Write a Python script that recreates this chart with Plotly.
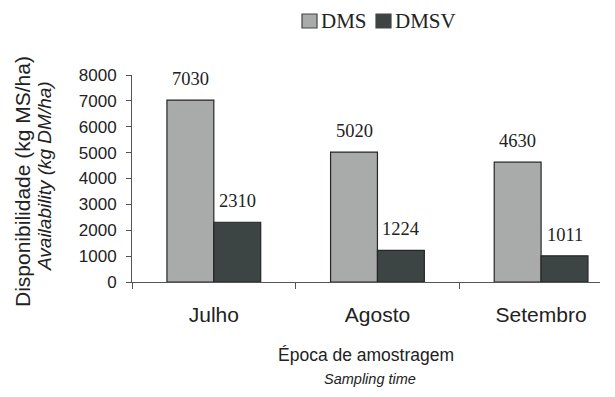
import plotly.graph_objects as go

categories = ["Julho", "Agosto", "Setembro"]
dms = [7030, 5020, 4630]
dmsv = [2310, 1224, 1011]
series_names = ["DMS", "DMSV"]
y_ticks = [0, 1000, 2000, 3000, 4000, 5000, 6000, 7000, 8000]

colors = ["#a9abaa", "#3c4543"]
edge = "#262626"
bargap = 0.427
bar_w = (1 - bargap) / 2

serif = "Liberation Serif, Times New Roman, serif"
sans = "Liberation Sans, Arial, sans-serif"

# the page body adds an 8px margin, so the figure is laid out 8px up/left
OFF = 8
FW, FH = 607, 389
L, W, T, H = 132 - OFF, 468, 75 - OFF, 207

def px(xp):
    return (xp - OFF - L) / W

def py(yp):
    return (T + H - (yp - OFF)) / H

fig = go.Figure()
for name, vals, col in zip(series_names, [dms, dmsv], colors):
    fig.add_trace(go.Bar(
        x=categories, y=vals, name=name, showlegend=False,
        marker=dict(color=col, line=dict(color=edge, width=1.2)),
    ))

# value labels above bars
for s, vals in enumerate([dms, dmsv]):
    for i, v in enumerate(vals):
        xpos = i + (s - 0.5) * bar_w
        fig.add_annotation(x=xpos, y=v, xref="x", yref="y", text=str(v),
                           showarrow=False, yanchor="middle", yshift=21,
                           font=dict(family=serif, size=18.5, color="#222"))

# legend drawn as squares + labels
legend_items = [(302, 317, 319), (376, 391, 393)]
for (x0, x1, tx), name, col in zip(legend_items, series_names, colors):
    fig.add_shape(type="rect", xref="paper", yref="paper",
                  x0=px(x0), x1=px(x1), y0=py(28), y1=py(14),
                  fillcolor=col, line=dict(color="#444", width=1.2))
    fig.add_annotation(xref="paper", yref="paper", x=px(tx), y=py(21), text=name,
                       showarrow=False, xanchor="left", yanchor="middle",
                       font=dict(family=serif, size=21, color="#222"))

# axis titles
fig.add_annotation(xref="paper", yref="paper", x=px(22), y=py(182), text="Disponibilidade (kg MS/ha)",
                   textangle=-90, showarrow=False, xanchor="center", yanchor="middle",
                   font=dict(family=sans, size=21, color="#222"))
fig.add_annotation(xref="paper", yref="paper", x=px(44), y=py(176), text="<i>Availability (kg DM/ha)</i>",
                   textangle=-90, showarrow=False, xanchor="center", yanchor="middle",
                   font=dict(family=sans, size=19, color="#222"))
fig.add_annotation(xref="paper", yref="paper", x=px(366), y=py(355), text="Época de amostragem",
                   showarrow=False, xanchor="center", yanchor="middle",
                   font=dict(family=sans, size=17.5, color="#222"))
fig.add_annotation(xref="paper", yref="paper", x=px(370), y=py(379), text="<i>Sampling time</i>",
                   showarrow=False, xanchor="center", yanchor="middle",
                   font=dict(family=sans, size=14.5, color="#222"))

fig.update_layout(
    width=FW, height=FH,
    margin=dict(l=L, r=FW - L - W, t=T, b=FH - T - H, autoexpand=False),
    paper_bgcolor="white", plot_bgcolor="white",
    barmode="group", bargap=bargap, bargroupgap=0,
    showlegend=False,
    xaxis=dict(range=[-0.5, 2.36], showline=True, linecolor="#555", linewidth=1,
               ticks="outside", tickson="boundaries", ticklen=6, tickcolor="#555",
               ticklabelstandoff=14,
               tickfont=dict(family=sans, size=21, color="#222"), showgrid=False),
    yaxis=dict(range=[0, 8000], tickvals=y_ticks, showline=True, linecolor="#555", linewidth=1,
               ticks="outside", ticklen=5, tickcolor="#555", showgrid=False, zeroline=False,
               ticklabelstandoff=6,
               tickfont=dict(family=sans, size=17, color="#222")),
)

fig.write_html("out.html")
